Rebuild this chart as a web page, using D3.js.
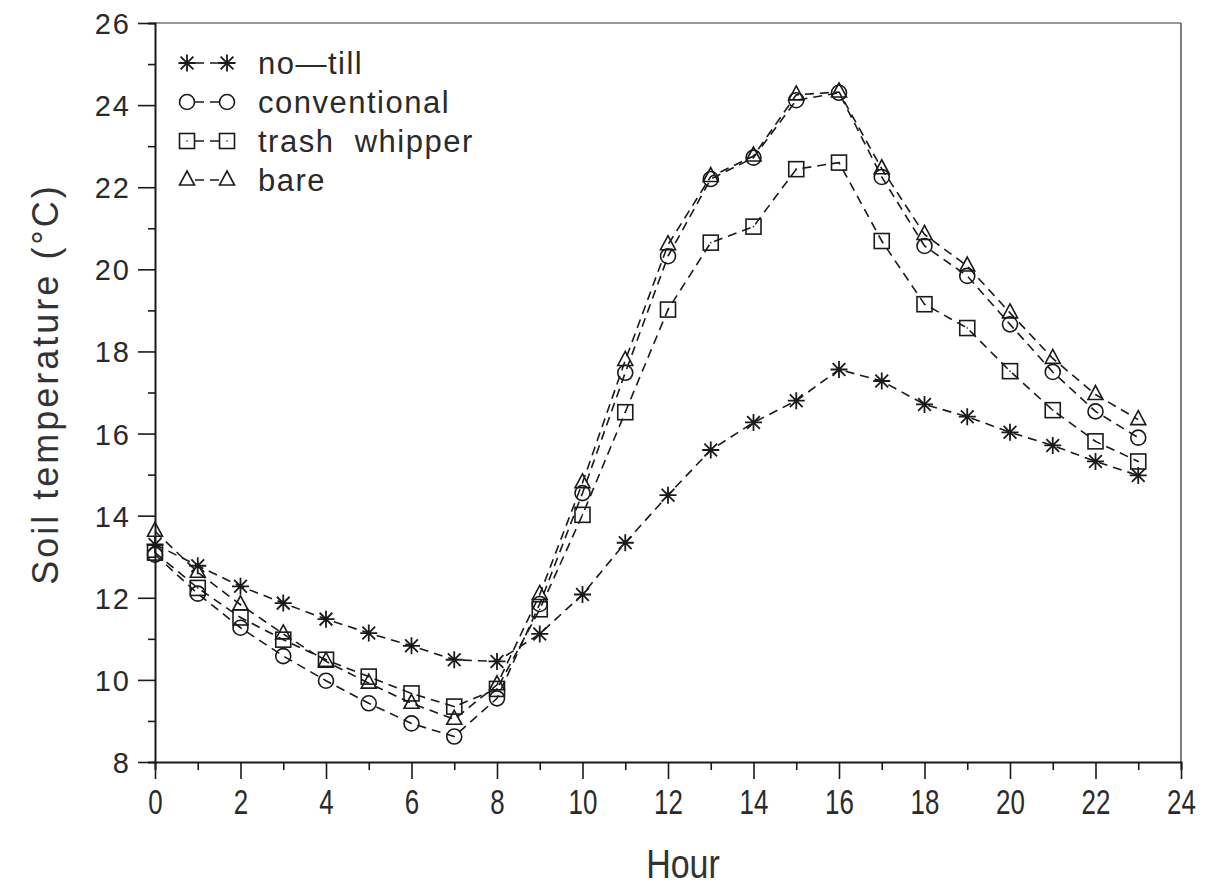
<!DOCTYPE html>
<html>
<head>
<meta charset="utf-8">
<script src="https://cdn.jsdelivr.net/npm/d3@7"></script>
<style>
  body { margin: 0; background: #fff; }
  svg { display: block; }
</style>
</head>
<body>
<div id="chart"></div>
<script>
// soil temperature by hour, four tillage treatments

const hours = d3.range(0, 24);
const seriesNames = ["no\u2014till", "conventional", "trash  whipper", "bare"];
const seriesSymbols = ["asterisk", "circle", "square", "triangle"];

const noTill = [13.3, 12.78, 12.28, 11.87, 11.48, 11.14, 10.83, 10.49, 10.45, 11.12, 12.08, 13.34,
  14.5, 15.6, 16.27, 16.8, 17.56, 17.28, 16.71, 16.41, 16.03, 15.71, 15.32, 14.98];
const conventional = [13.05, 12.1, 11.27, 10.58, 9.98, 9.43, 8.94, 8.62, 9.55, 11.85, 14.55, 17.48,
  20.32, 22.2, 22.72, 24.12, 24.3, 22.25, 20.57, 19.84, 18.66, 17.5, 16.54, 15.9];
const trashWhipper = [13.1, 12.24, 11.52, 10.98, 10.49, 10.08, 9.67, 9.35, 9.78, 11.72, 14.02, 16.52,
  19.02, 20.65, 21.04, 22.44, 22.6, 20.69, 19.15, 18.57, 17.52, 16.57, 15.81, 15.32];
const bare = [13.62, 12.62, 11.83, 11.12, 10.45, 9.92, 9.43, 9.04, 9.88, 12.08, 14.8, 17.78,
  20.6, 22.26, 22.76, 24.25, 24.32, 22.45, 20.85, 20.08, 18.94, 17.83, 16.95, 16.34];

const seriesValues = [noTill, conventional, trashWhipper, bare];

const xTicks = d3.range(0, 25, 2);
const yTicks = d3.range(8, 27, 2);

const W = 1213, H = 894;
const ink = "#1a1a1a";

const svg = d3.select("#chart").append("svg")
  .attr("width", W)
  .attr("height", H);

const x = d3.scaleLinear().domain([0, 24]).range([155, 1181]);
const y = d3.scaleLinear().domain([8, 26]).range([762, 23]);

// --- frame (top + right are faint in the scan) ---
svg.append("line")
  .attr("x1", x(0)).attr("x2", x(24))
  .attr("y1", y(26)).attr("y2", y(26))
  .attr("stroke", "#777").attr("stroke-width", 1.5);
svg.append("line")
  .attr("x1", x(24)).attr("x2", x(24))
  .attr("y1", y(26)).attr("y2", y(8))
  .attr("stroke", "#555").attr("stroke-width", 1.5);

// --- x axis: minor ticks every hour, labels every 2 ---
const xAxis = svg.append("g")
  .attr("transform", `translate(0,${y(8)})`)
  .call(d3.axisBottom(x).tickValues(hours.concat([24])).tickSize(8).tickFormat(""));
xAxis.selectAll(".tick line")
  .attr("y2", d => xTicks.includes(d) ? 17 : 8);
xAxis.selectAll(".tick")
  .filter(d => xTicks.includes(d))
  .append("text")
  .attr("y", 26)
  .attr("dy", "0.71em")
  .attr("text-anchor", "middle")
  .attr("transform", "scale(0.72,1)")
  .attr("fill", "#2a2a2a")
  .style("font-family", "Liberation Sans, Arial, sans-serif")
  .style("font-size", "36px")
  .text(d => d);

// --- y axis: minor ticks every degree, labels every 2 ---
const yAxis = svg.append("g")
  .attr("transform", `translate(${x(0)},0)`)
  .call(d3.axisLeft(y).tickValues(d3.range(8, 27, 1)).tickSize(7).tickFormat(""));
yAxis.selectAll(".tick line")
  .attr("x2", d => yTicks.includes(d) ? -17 : -7);
yAxis.selectAll(".tick")
  .filter(d => yTicks.includes(d))
  .append("text")
  .attr("x", -24)
  .attr("dy", "0.36em")
  .attr("text-anchor", "end")
  .attr("fill", "#2a2a2a")
  .style("font-family", "Liberation Sans, Arial, sans-serif")
  .style("font-size", "29px")
  .style("letter-spacing", "2px")
  .text(d => d);

[xAxis, yAxis].forEach(g => {
  g.select(".domain").attr("stroke", ink).attr("stroke-width", 2);
  g.selectAll(".tick line").attr("stroke", ink).attr("stroke-width", 1.6);
});

// --- axis titles ---
svg.append("text")
  .attr("transform", `translate(683,878) scale(0.85,1)`)
  .attr("text-anchor", "middle")
  .attr("fill", "#333")
  .style("font-family", "Liberation Sans, Arial, sans-serif")
  .style("font-size", "40px")
  .text("Hour");

svg.append("text")
  .attr("transform", `translate(58,384) rotate(-90)`)
  .attr("text-anchor", "middle")
  .attr("fill", "#333")
  .style("font-family", "Liberation Sans, Arial, sans-serif")
  .style("font-size", "36px")
  .style("letter-spacing", "3px")
  .text("Soil temperature (\u00B0C)");

// --- marker drawing ---
function drawMarker(g, kind, cx, cy) {
  const m = g.append("g").attr("transform", `translate(${cx},${cy})`)
    .attr("fill", "none").attr("stroke", ink).attr("stroke-width", 1.6);
  if (kind === "circle") {
    m.append("circle").attr("r", 7.5);
  } else if (kind === "square") {
    m.append("rect").attr("x", -7.5).attr("y", -7.5).attr("width", 15).attr("height", 15);
    m.append("circle").attr("r", 0.8).attr("fill", ink).attr("stroke", "none");
  } else if (kind === "triangle") {
    m.append("path").attr("d", "M0,-9 L7.5,5 L-7.5,5 Z");
  } else {
    const r = 8.5, d = r * 0.75;
    m.append("path")
      .attr("stroke-width", 1.8)
      .attr("d", `M0,${-r}V${r}M${-r},0H${r}M${-d},${-d}L${d},${d}M${-d},${d}L${d},${-d}`);
  }
}

// --- series ---
const line = d3.line()
  .x((d, i) => x(hours[i]))
  .y(d => y(d));

seriesValues.forEach((vals, si) => {
  const g = svg.append("g").attr("class", "series");
  g.append("path")
    .datum(vals)
    .attr("d", line)
    .attr("fill", "none")
    .attr("stroke", ink)
    .attr("stroke-width", 1.6)
    .attr("stroke-dasharray", "9,6");
  vals.forEach((v, i) => drawMarker(g, seriesSymbols[si], x(hours[i]), y(v)));
});

// --- legend ---
const legend = svg.append("g").attr("class", "legend");
seriesNames.forEach((name, i) => {
  const ly = 63 + i * 39;
  legend.append("line")
    .attr("x1", 192).attr("x2", 222)
    .attr("y1", ly).attr("y2", ly)
    .attr("stroke", ink).attr("stroke-width", 1.6)
    .attr("stroke-dasharray", "9,6")
    .attr("stroke-dashoffset", -3);
  drawMarker(legend, seriesSymbols[i], 187, ly);
  drawMarker(legend, seriesSymbols[i], 227, ly);
  legend.append("text")
    .attr("x", 258)
    .attr("y", ly)
    .attr("dy", "0.36em")
    .attr("fill", "#2a2a2a")
    .style("font-family", "Liberation Sans, Arial, sans-serif")
    .style("font-size", "31px")
    .style("letter-spacing", "1.5px")
    .style("white-space", "pre")
    .text(name);
});
</script>
</body>
</html>
